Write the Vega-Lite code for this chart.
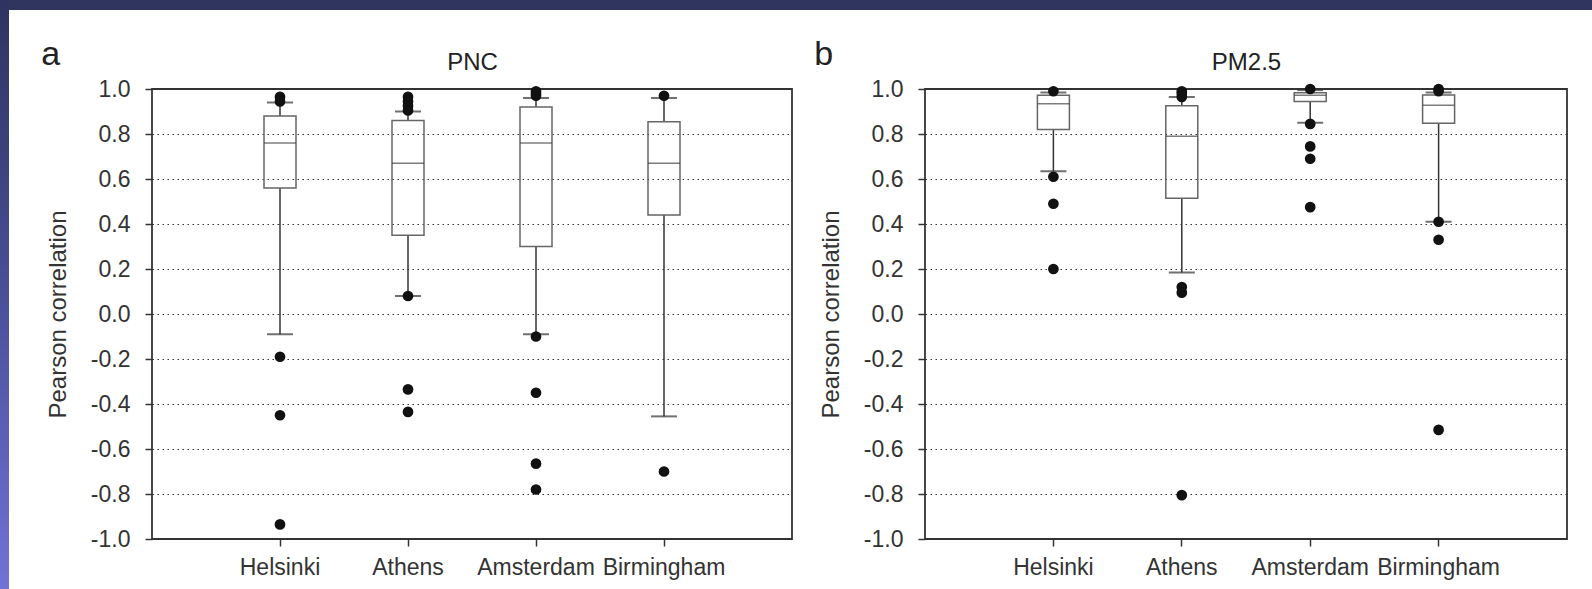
{
  "$schema": "https://vega.github.io/schema/vega-lite/v6.json",
  "padding": 0,
  "background": "white",
  "spacing": 0,
  "datasets": {
    "stats": [
      {"panel": "PNC", "city": "Helsinki", "lower": -0.09, "q1": 0.56, "median": 0.76, "q3": 0.88, "upper": 0.94},
      {"panel": "PNC", "city": "Athens", "lower": 0.08, "q1": 0.35, "median": 0.67, "q3": 0.86, "upper": 0.9},
      {"panel": "PNC", "city": "Amsterdam", "lower": -0.09, "q1": 0.3, "median": 0.76, "q3": 0.92, "upper": 0.96},
      {"panel": "PNC", "city": "Birmingham", "lower": -0.455, "q1": 0.44, "median": 0.67, "q3": 0.855, "upper": 0.96},
      {"panel": "PM2.5", "city": "Helsinki", "lower": 0.635, "q1": 0.82, "median": 0.935, "q3": 0.972, "upper": 0.985},
      {"panel": "PM2.5", "city": "Athens", "lower": 0.185, "q1": 0.515, "median": 0.79, "q3": 0.926, "upper": 0.965},
      {"panel": "PM2.5", "city": "Amsterdam", "lower": 0.85, "q1": 0.944, "median": 0.972, "q3": 0.983, "upper": 0.995},
      {"panel": "PM2.5", "city": "Birmingham", "lower": 0.41, "q1": 0.848, "median": 0.928, "q3": 0.973, "upper": 0.985}
    ],
    "outliers": [
      {"panel": "PNC", "city": "Helsinki", "r": 0.965},
      {"panel": "PNC", "city": "Helsinki", "r": 0.945},
      {"panel": "PNC", "city": "Helsinki", "r": -0.19},
      {"panel": "PNC", "city": "Helsinki", "r": -0.45},
      {"panel": "PNC", "city": "Helsinki", "r": -0.935},
      {"panel": "PNC", "city": "Athens", "r": 0.965},
      {"panel": "PNC", "city": "Athens", "r": 0.945},
      {"panel": "PNC", "city": "Athens", "r": 0.925},
      {"panel": "PNC", "city": "Athens", "r": 0.905},
      {"panel": "PNC", "city": "Athens", "r": 0.08},
      {"panel": "PNC", "city": "Athens", "r": -0.335},
      {"panel": "PNC", "city": "Athens", "r": -0.435},
      {"panel": "PNC", "city": "Amsterdam", "r": 0.99},
      {"panel": "PNC", "city": "Amsterdam", "r": 0.98},
      {"panel": "PNC", "city": "Amsterdam", "r": 0.97},
      {"panel": "PNC", "city": "Amsterdam", "r": -0.1},
      {"panel": "PNC", "city": "Amsterdam", "r": -0.35},
      {"panel": "PNC", "city": "Amsterdam", "r": -0.665},
      {"panel": "PNC", "city": "Amsterdam", "r": -0.78},
      {"panel": "PNC", "city": "Birmingham", "r": 0.97},
      {"panel": "PNC", "city": "Birmingham", "r": -0.7},
      {"panel": "PM2.5", "city": "Helsinki", "r": 0.99},
      {"panel": "PM2.5", "city": "Helsinki", "r": 0.61},
      {"panel": "PM2.5", "city": "Helsinki", "r": 0.49},
      {"panel": "PM2.5", "city": "Helsinki", "r": 0.2},
      {"panel": "PM2.5", "city": "Athens", "r": 0.99},
      {"panel": "PM2.5", "city": "Athens", "r": 0.98},
      {"panel": "PM2.5", "city": "Athens", "r": 0.965},
      {"panel": "PM2.5", "city": "Athens", "r": 0.12},
      {"panel": "PM2.5", "city": "Athens", "r": 0.095},
      {"panel": "PM2.5", "city": "Athens", "r": -0.805},
      {"panel": "PM2.5", "city": "Amsterdam", "r": 1.0},
      {"panel": "PM2.5", "city": "Amsterdam", "r": 0.845},
      {"panel": "PM2.5", "city": "Amsterdam", "r": 0.745},
      {"panel": "PM2.5", "city": "Amsterdam", "r": 0.69},
      {"panel": "PM2.5", "city": "Amsterdam", "r": 0.475},
      {"panel": "PM2.5", "city": "Birmingham", "r": 1.0},
      {"panel": "PM2.5", "city": "Birmingham", "r": 0.99},
      {"panel": "PM2.5", "city": "Birmingham", "r": 0.41},
      {"panel": "PM2.5", "city": "Birmingham", "r": 0.33},
      {"panel": "PM2.5", "city": "Birmingham", "r": -0.515}
    ]
  },
  "config": {
    "font": "Liberation Sans",
    "view": {"stroke": "#333333", "strokeWidth": 1.8},
    "title": {"fontWeight": "normal", "color": "#222222"},
    "axisY": {
      "domain": false,
      "grid": true,
      "gridDash": [1.5, 3.5],
      "gridColor": "#333333",
      "gridWidth": 1.2,
      "tickSize": 7,
      "tickColor": "#333333",
      "tickWidth": 1.5,
      "labelFontSize": 23,
      "labelPadding": 15,
      "labelColor": "#333333",
      "titleFontSize": 24,
      "titleFontWeight": "normal",
      "titleColor": "#333333",
      "titlePadding": 20
    },
    "axisX": {
      "domain": false,
      "grid": false,
      "tickSize": 7,
      "tickColor": "#333333",
      "tickWidth": 1.5,
      "labelFontSize": 23,
      "labelAngle": 0,
      "labelPadding": 10,
      "labelColor": "#333333",
      "titleFontSize": 24,
      "titleFontWeight": "normal",
      "titleColor": "#222222"
    }
  },
  "hconcat": [
    {
      "width": 9,
      "height": 589,
      "view": {"stroke": null},
      "data": {"values": [{}]},
      "mark": {"type": "rect", "color": {"gradient": "linear", "x1": 0, "y1": 0, "x2": 0, "y2": 1, "stops": [{"offset": 0, "color": "#2f3360"}, {"offset": 0.5, "color": "#4a4f98"}, {"offset": 1, "color": "#7272d6"}]}},
      "encoding": {}
    },
    {
      "spacing": 27,
      "vconcat": [
        {
          "width": 1583,
          "height": 10,
          "view": {"stroke": null},
          "data": {"values": [{}]},
          "mark": {"type": "rect", "color": "#30355f"},
          "encoding": {}
        },
        {
          "spacing": 20,
          "hconcat": [
            {
              "width": 11,
              "height": 1,
              "view": {"stroke": null},
              "data": {"values": []},
              "mark": "rect",
              "encoding": {}
            },
            {
              "width": 640,
              "height": 450,
              "title": {"text": "a", "anchor": "start", "fontSize": 34, "offset": -22, "dx": -5},
              "resolve": {"axis": {"x": "independent"}},
              "layer": [
                {
                  "data": {"name": "stats"},
                  "transform": [{"filter": "datum.panel === 'PNC'"}],
                  "mark": {"type": "rule", "color": "#333333", "strokeWidth": 1.5},
                  "encoding": {
                    "x": {"field": "city", "type": "nominal", "scale": {"type": "band", "domain": ["Helsinki", "Athens", "Amsterdam", "Birmingham"], "paddingInner": 0, "paddingOuter": 0.5}, "axis": {"title": null}},
                    "y": {"field": "lower", "type": "quantitative", "scale": {"domain": [-1, 1], "nice": false, "zero": false}, "title": "Pearson correlation", "axis": {"values": [-1, -0.8, -0.6, -0.4, -0.2, 0, 0.2, 0.4, 0.6, 0.8, 1], "format": ".1f", "labelExpr": "replace(datum.label, '\u2212', '-')"}},
                    "y2": {"field": "q1"}
                  }
                },
                {
                  "data": {"name": "stats"},
                  "transform": [{"filter": "datum.panel === 'PNC'"}],
                  "mark": {"type": "rule", "color": "#333333", "strokeWidth": 1.5},
                  "encoding": {
                    "x": {"field": "city", "type": "nominal", "scale": {"type": "band", "domain": ["Helsinki", "Athens", "Amsterdam", "Birmingham"], "paddingInner": 0, "paddingOuter": 0.5}, "axis": null},
                    "y": {"field": "q3", "type": "quantitative", "title": "Pearson correlation"},
                    "y2": {"field": "upper"}
                  }
                },
                {
                  "data": {"name": "stats"},
                  "transform": [{"filter": "datum.panel === 'PNC'"}],
                  "mark": {"type": "bar", "filled": false, "color": "#666666", "strokeWidth": 1.5, "size": 32},
                  "encoding": {
                    "x": {"field": "city", "type": "nominal", "scale": {"type": "band", "domain": ["Helsinki", "Athens", "Amsterdam", "Birmingham"], "paddingInner": 0, "paddingOuter": 0.5}, "axis": null},
                    "y": {"field": "q1", "type": "quantitative", "title": "Pearson correlation"},
                    "y2": {"field": "q3"}
                  }
                },
                {
                  "data": {"name": "stats"},
                  "transform": [{"filter": "datum.panel === 'PNC'"}],
                  "mark": {"type": "tick", "orient": "horizontal", "color": "#444444", "size": 32, "thickness": 1.5},
                  "encoding": {
                    "x": {"field": "city", "type": "nominal", "scale": {"type": "band", "domain": ["Helsinki", "Athens", "Amsterdam", "Birmingham"], "paddingInner": 0, "paddingOuter": 0.5}, "axis": {"orient": "top", "title": "PNC", "labels": false, "ticks": false, "domain": false, "titlePadding": 15}},
                    "y": {"field": "median", "type": "quantitative", "title": "Pearson correlation"}
                  }
                },
                {
                  "data": {"name": "stats"},
                  "transform": [{"filter": "datum.panel === 'PNC'"}],
                  "mark": {"type": "tick", "orient": "horizontal", "color": "#333333", "size": 26, "thickness": 2},
                  "encoding": {
                    "x": {"field": "city", "type": "nominal", "scale": {"type": "band", "domain": ["Helsinki", "Athens", "Amsterdam", "Birmingham"], "paddingInner": 0, "paddingOuter": 0.5}, "axis": null},
                    "y": {"field": "lower", "type": "quantitative", "title": "Pearson correlation"}
                  }
                },
                {
                  "data": {"name": "stats"},
                  "transform": [{"filter": "datum.panel === 'PNC'"}],
                  "mark": {"type": "tick", "orient": "horizontal", "color": "#333333", "size": 26, "thickness": 2},
                  "encoding": {
                    "x": {"field": "city", "type": "nominal", "scale": {"type": "band", "domain": ["Helsinki", "Athens", "Amsterdam", "Birmingham"], "paddingInner": 0, "paddingOuter": 0.5}, "axis": null},
                    "y": {"field": "upper", "type": "quantitative", "title": "Pearson correlation"}
                  }
                },
                {
                  "data": {"name": "outliers"},
                  "transform": [{"filter": "datum.panel === 'PNC'"}],
                  "mark": {"type": "point", "filled": true, "color": "#111111", "opacity": 1, "size": 115},
                  "encoding": {
                    "x": {"field": "city", "type": "nominal", "scale": {"type": "band", "domain": ["Helsinki", "Athens", "Amsterdam", "Birmingham"], "paddingInner": 0, "paddingOuter": 0.5}, "axis": null},
                    "y": {"field": "r", "type": "quantitative", "title": "Pearson correlation"}
                  }
                }
              ]
            },
            {
              "width": 642,
              "height": 450,
              "title": {"text": "b", "anchor": "start", "fontSize": 34, "offset": -22, "dx": -5},
              "resolve": {"axis": {"x": "independent"}},
              "layer": [
                {
                  "data": {"name": "stats"},
                  "transform": [{"filter": "datum.panel === 'PM2.5'"}],
                  "mark": {"type": "rule", "color": "#333333", "strokeWidth": 1.5},
                  "encoding": {
                    "x": {"field": "city", "type": "nominal", "scale": {"type": "band", "domain": ["Helsinki", "Athens", "Amsterdam", "Birmingham"], "paddingInner": 0, "paddingOuter": 0.5}, "axis": {"title": null}},
                    "y": {"field": "lower", "type": "quantitative", "scale": {"domain": [-1, 1], "nice": false, "zero": false}, "title": "Pearson correlation", "axis": {"values": [-1, -0.8, -0.6, -0.4, -0.2, 0, 0.2, 0.4, 0.6, 0.8, 1], "format": ".1f", "labelExpr": "replace(datum.label, '\u2212', '-')"}},
                    "y2": {"field": "q1"}
                  }
                },
                {
                  "data": {"name": "stats"},
                  "transform": [{"filter": "datum.panel === 'PM2.5'"}],
                  "mark": {"type": "rule", "color": "#333333", "strokeWidth": 1.5},
                  "encoding": {
                    "x": {"field": "city", "type": "nominal", "scale": {"type": "band", "domain": ["Helsinki", "Athens", "Amsterdam", "Birmingham"], "paddingInner": 0, "paddingOuter": 0.5}, "axis": null},
                    "y": {"field": "q3", "type": "quantitative", "title": "Pearson correlation"},
                    "y2": {"field": "upper"}
                  }
                },
                {
                  "data": {"name": "stats"},
                  "transform": [{"filter": "datum.panel === 'PM2.5'"}],
                  "mark": {"type": "bar", "filled": false, "color": "#666666", "strokeWidth": 1.5, "size": 32},
                  "encoding": {
                    "x": {"field": "city", "type": "nominal", "scale": {"type": "band", "domain": ["Helsinki", "Athens", "Amsterdam", "Birmingham"], "paddingInner": 0, "paddingOuter": 0.5}, "axis": null},
                    "y": {"field": "q1", "type": "quantitative", "title": "Pearson correlation"},
                    "y2": {"field": "q3"}
                  }
                },
                {
                  "data": {"name": "stats"},
                  "transform": [{"filter": "datum.panel === 'PM2.5'"}],
                  "mark": {"type": "tick", "orient": "horizontal", "color": "#444444", "size": 32, "thickness": 1.5},
                  "encoding": {
                    "x": {"field": "city", "type": "nominal", "scale": {"type": "band", "domain": ["Helsinki", "Athens", "Amsterdam", "Birmingham"], "paddingInner": 0, "paddingOuter": 0.5}, "axis": {"orient": "top", "title": "PM2.5", "labels": false, "ticks": false, "domain": false, "titlePadding": 15}},
                    "y": {"field": "median", "type": "quantitative", "title": "Pearson correlation"}
                  }
                },
                {
                  "data": {"name": "stats"},
                  "transform": [{"filter": "datum.panel === 'PM2.5'"}],
                  "mark": {"type": "tick", "orient": "horizontal", "color": "#333333", "size": 26, "thickness": 2},
                  "encoding": {
                    "x": {"field": "city", "type": "nominal", "scale": {"type": "band", "domain": ["Helsinki", "Athens", "Amsterdam", "Birmingham"], "paddingInner": 0, "paddingOuter": 0.5}, "axis": null},
                    "y": {"field": "lower", "type": "quantitative", "title": "Pearson correlation"}
                  }
                },
                {
                  "data": {"name": "stats"},
                  "transform": [{"filter": "datum.panel === 'PM2.5'"}],
                  "mark": {"type": "tick", "orient": "horizontal", "color": "#333333", "size": 26, "thickness": 2},
                  "encoding": {
                    "x": {"field": "city", "type": "nominal", "scale": {"type": "band", "domain": ["Helsinki", "Athens", "Amsterdam", "Birmingham"], "paddingInner": 0, "paddingOuter": 0.5}, "axis": null},
                    "y": {"field": "upper", "type": "quantitative", "title": "Pearson correlation"}
                  }
                },
                {
                  "data": {"name": "outliers"},
                  "transform": [{"filter": "datum.panel === 'PM2.5'"}],
                  "mark": {"type": "point", "filled": true, "color": "#111111", "opacity": 1, "size": 115},
                  "encoding": {
                    "x": {"field": "city", "type": "nominal", "scale": {"type": "band", "domain": ["Helsinki", "Athens", "Amsterdam", "Birmingham"], "paddingInner": 0, "paddingOuter": 0.5}, "axis": null},
                    "y": {"field": "r", "type": "quantitative", "title": "Pearson correlation"}
                  }
                }
              ]
            }
          ]
        }
      ]
    }
  ]
}
